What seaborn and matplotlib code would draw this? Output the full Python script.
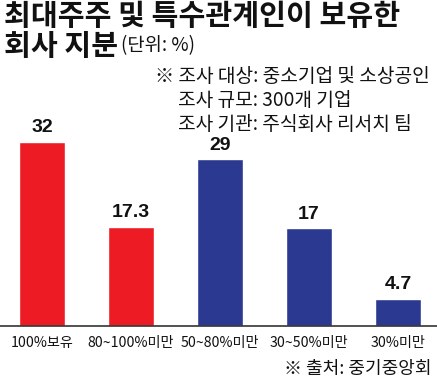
import matplotlib
matplotlib.use("Agg")
import matplotlib.pyplot as plt
import seaborn as sns
import pandas as pd

categories = ["100%보유", "80~100%미만", "50~80%미만", "30~50%미만", "30%미만"]
values = [32, 17.3, 29, 17, 4.7]
groups = ["A", "A", "B", "B", "B"]
value_labels = ["32", "17.3", "29", "17", "4.7"]

title_line1 = "최대주주 및 특수관계인이 보유한"
title_line2 = "회사 지분"
unit_text = "(단위: %)"
note_lines = ["※ 조사 대상: 중소기업 및 소상공인", "조사 규모: 300개 기업", "조사 기관: 주식회사 리서치 팀"]
source_text = "※ 출처: 중기중앙회"

sns.set_style("white")
plt.rcParams['font.family'] = ['Noto Sans CJK KR', 'DejaVu Sans']

W, H = 437, 390
fig = plt.figure(figsize=(W / 100, H / 100), dpi=100)
ax = fig.add_axes([0, 64 / H, 1, 326 / H])

df = pd.DataFrame({"cat": categories, "val": values, "grp": groups})
palette = {"A": "#ED1C24", "B": "#2B3990"}
sns.barplot(data=df, x="cat", y="val", hue="grp", palette=palette, dodge=False,
            width=0.506, legend=False, ax=ax, saturation=1)

ax.set_ylim(0, 326 / 5.75)
ax.set_xlim(-42 / 89, (437 - 42) / 89)
ax.set_xlabel("")
ax.set_ylabel("")
ax.set_yticks([])
for s in ["top", "left", "right"]:
    ax.spines[s].set_visible(False)
ax.spines["bottom"].set_color("#333333")
ax.spines["bottom"].set_linewidth(1.2)

ax.set_xticks(range(len(categories)))
ax.set_xticklabels(categories, fontsize=10.2, color="#111111")
ax.tick_params(axis="x", which="major", length=0, pad=7)
ax.set_xticks([i + 0.5 for i in range(len(categories) - 1)], minor=True)
ax.tick_params(axis="x", which="minor", direction="in", length=6, width=1, color="#333333")

for cont in ax.containers:
    labs = []
    for bar in cont:
        h = bar.get_height()
        if h != h:
            labs.append("")
            continue
        idx = values.index(h)
        labs.append(value_labels[idx])
    ax.bar_label(cont, labels=labs, padding=4, fontsize=14, fontweight="bold",
                 family=["Liberation Sans", "DejaVu Sans"], color="#111111")

fig.text(4 / W, 1 - 16 / H, title_line1, fontsize=21, fontweight="heavy", va="center", ha="left", color="#111111")
fig.text(4 / W, 1 - 46 / H, title_line2, fontsize=21, fontweight="heavy", va="center", ha="left", color="#111111")
fig.text(121 / W, 1 - 46 / H, unit_text, fontsize=13.5, va="center", ha="left", color="#111111")

fig.text(155 / W, 1 - 76 / H, note_lines[0], fontsize=13.8, va="center", ha="left", color="#111111")
fig.text(178 / W, 1 - 100 / H, note_lines[1], fontsize=13.8, va="center", ha="left", color="#111111")
fig.text(178 / W, 1 - 124 / H, note_lines[2], fontsize=13.8, va="center", ha="left", color="#111111")

fig.text(431 / W, 1 - 369 / H, source_text, fontsize=13, va="center", ha="right", color="#111111")

fig.savefig("out.png", dpi=100)
